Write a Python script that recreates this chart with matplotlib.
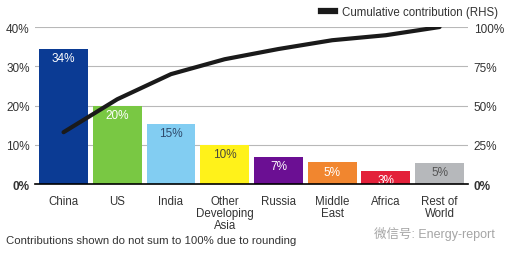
import matplotlib
matplotlib.use('Agg')
import matplotlib.pyplot as plt
from matplotlib.lines import Line2D

# ── Data ─────────────────────────────────────────────────────────────────────
regions = ["China", "US", "India", "Other\nDeveloping\nAsia", "Russia",
           "Middle\nEast", "Africa", "Rest of\nWorld"]
share = [34.5, 20.0, 15.3, 10.0, 6.9, 5.6, 3.4, 5.4]
share_labels = ["34%", "20%", "15%", "10%", "7%", "5%", "3%", "5%"]
cumulative = [33, 54, 70, 79.5, 86, 91.6, 94.8, 100]
left_ticks = [0, 10, 20, 30, 40]
right_ticks = [0, 25, 50, 75, 100]

bar_colors = ["#0b3b94", "#79c843", "#82cdf2", "#fff21a", "#6b0f93",
              "#f1862f", "#e3213a", "#b6b8bb"]
label_colors = ["white", "white", "#2f4a6b", "#4a4a3a", "white", "white",
                "white", "#555555"]

plt.rcParams['font.family'] = ['Liberation Sans', 'Noto Sans CJK SC', 'DejaVu Sans']

fig = plt.figure(figsize=(5.16, 2.55), dpi=100)
ax = fig.add_axes([0.068, 0.2745, 0.839, 0.6155])

x = list(range(len(regions)))
ax.bar(x, share, width=0.91, color=bar_colors, zorder=2)
for xi, v, lab, c in zip(x, share, share_labels, label_colors):
    ax.text(xi, v - 0.9, lab, ha='center', va='top', fontsize=8.5,
            color=c, zorder=3)

ax.set_xlim(-0.53, len(regions) - 0.47)
ax.set_ylim(0, 40)
ax.set_yticks(left_ticks)
ax.set_yticklabels([f"{t}%" for t in left_ticks])
ax.yaxis.grid(True, color="#b8b8b8", linewidth=0.8, zorder=0)
ax.set_axisbelow(True)
for s in ["top", "right", "left"]:
    ax.spines[s].set_visible(False)
ax.spines["bottom"].set_color("black")
ax.spines["bottom"].set_linewidth(1.2)
ax.spines["bottom"].set_zorder(4)
ax.tick_params(axis='y', length=0, labelsize=8.5, colors="#333333", pad=4)
ax.tick_params(axis='x', length=0, labelsize=8.3, colors="#333333", pad=8)
ax.set_xticks(x)
ax.set_xticklabels(regions, linespacing=0.98)
ax.get_yticklabels()[0].set_fontweight('bold')

ax2 = ax.twinx()
ax2.plot(x, cumulative, color="#1a1a1a", linewidth=3, solid_capstyle='round',
         zorder=5)
ax2.set_ylim(0, 100)
ax2.set_yticks(right_ticks)
ax2.set_yticklabels([f"{t}%" for t in right_ticks])
ax2.tick_params(axis='y', length=0, labelsize=8.5, colors="#333333", pad=4)
ax2.get_yticklabels()[0].set_fontweight('bold')
for s in ax2.spines.values():
    s.set_visible(False)

handle = Line2D([0], [0], color="#1a1a1a", linewidth=4.5)
fig.legend([handle], ["Cumulative contribution (RHS)"], loc='upper right',
           bbox_to_anchor=(0.985, 1.015), frameon=False, fontsize=8.3,
           handlelength=1.2, handletextpad=0.6, labelcolor="#333333")

fig.text(0.012, 0.045, "Contributions shown do not sum to 100% due to rounding",
         fontsize=8.2, color="#333333")
fig.text(0.725, 0.065, "微信号: Energy-report", fontsize=9, color="#a5a5a5")

fig.savefig("out.png", dpi=100)
